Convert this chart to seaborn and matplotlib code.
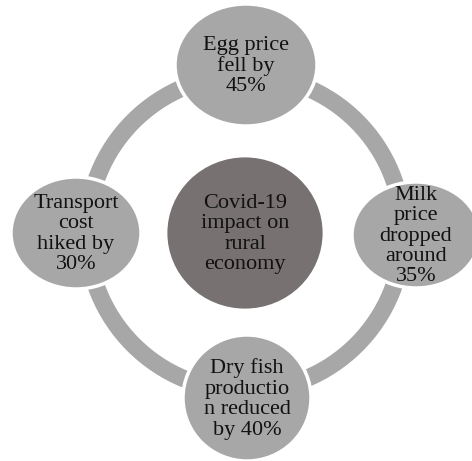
import numpy as np
import matplotlib
matplotlib.use('Agg')
import matplotlib.pyplot as plt
from matplotlib.patches import Ellipse, Circle
import seaborn as sns

LIGHT = '#a8a7a7'
DARK = '#777171'

sns.set_theme(style='white')
plt.rcParams['font.family'] = ['Liberation Serif', 'DejaVu Serif']

center_label = 'Covid-19\nimpact on\nrural\neconomy'
node_labels = ['Egg price\nfell by\n45%',
               'Milk\nprice\ndropped\naround\n35%',
               'Dry fish\nproductio\nn reduced\nby 40%',
               'Transport\ncost\nhiked by\n30%']

# layout (pixel units, y pointing down)
cx, cy = 245, 233
node_xy = [(246, 65), (416, 235), (247, 398), (76, 233)]
node_size = [(142, 122), (128, 106), (128, 126), (130, 112)]

fig = plt.figure(figsize=(4.72, 4.61), dpi=100)
ax = fig.add_axes([0, 0, 1, 1])
ax.set_xlim(0, 472)
ax.set_ylim(461, 0)
ax.axis('off')

# connecting ring
ring = Circle((cx, cy), 158, fill=False, edgecolor=LIGHT, linewidth=12.5, zorder=1)
ax.add_patch(ring)

# center circle
ax.add_patch(Ellipse((cx, cy), 158, 154, facecolor=DARK, edgecolor='white', linewidth=2, zorder=2))
ax.text(cx, cy + 1, center_label, ha='center', va='center', fontsize=16,
        linespacing=1.1, color='#111111', zorder=3)

# outer nodes
for (x, y), (w, h), lab in zip(node_xy, node_size, node_labels):
    ax.add_patch(Ellipse((x, y), w, h, facecolor=LIGHT, edgecolor='white', linewidth=2.5, zorder=2))
    ax.text(x, y + 1, lab, ha='center', va='center', fontsize=16,
            linespacing=1.1, color='#111111', zorder=3)

fig.savefig('out.png', dpi=100, facecolor='white')
